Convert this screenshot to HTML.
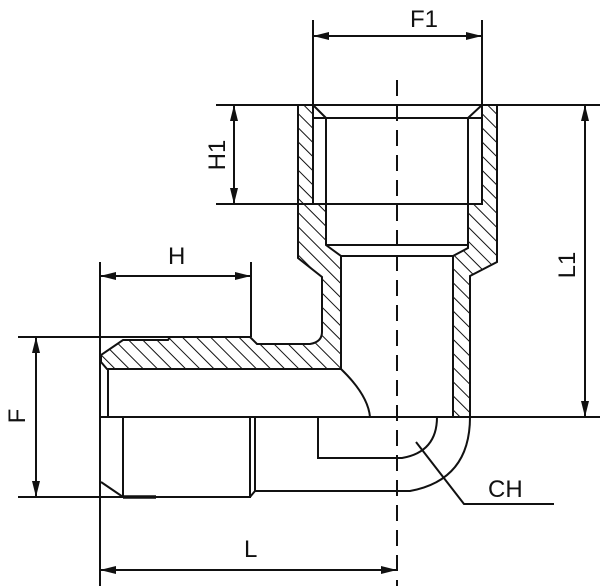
<!DOCTYPE html>
<html><head><meta charset="utf-8"><style>
html,body{margin:0;padding:0;background:#fff;}
svg{display:block;}
text{font-family:"Liberation Sans",sans-serif;font-size:24px;fill:#111;}
</style></head><body>
<svg width="600" height="586" viewBox="0 0 600 586" xmlns="http://www.w3.org/2000/svg">
<defs>
<pattern id="h" patternUnits="userSpaceOnUse" width="10" height="10" patternTransform="rotate(-45)">
<line x1="0" y1="0" x2="0" y2="10" stroke="#111" stroke-width="2"/>
</pattern>
<marker id="a" markerWidth="16" markerHeight="8" refX="16" refY="4" orient="auto" markerUnits="userSpaceOnUse">
<path d="M0,0 L16,4 L0,8 z" fill="#111"/>
</marker>
<marker id="b" markerWidth="16" markerHeight="8" refX="0" refY="4" orient="auto" markerUnits="userSpaceOnUse">
<path d="M16,0 L0,4 L16,8 z" fill="#111"/>
</marker>
</defs>
<g stroke="#111" stroke-width="2" fill="none">
<path fill="url(#h)" d="M298,105 L313,105 L313,204 L326,204 L326,245 L341,256 L341,369 L107,369 L101,362 L101,355 L123,340 L168,340 L170,337 L250,337 L257,344 L310,344 Q322,342 322,332 L322,277 L298,258 Z"/>
<path fill="url(#h)" d="M482,105 L497,105 L497,262 L470,276 L470,417 L453,417 L453,256 L468,248 L468,204 L482,204 Z"/>
<path d="M313,105 L326,118 L468,118 L482,105"/>
<line x1="313" y1="118" x2="326" y2="118"/>
<line x1="468" y1="118" x2="482" y2="118"/>
<line x1="326" y1="118" x2="326" y2="245"/>
<line x1="468" y1="118" x2="468" y2="245"/>
<line x1="326" y1="245" x2="468" y2="245"/>
<line x1="341" y1="256" x2="453" y2="256"/>
<path d="M341,369 Q368,395 370,417"/>
<line x1="108" y1="369" x2="108" y2="417"/>
<line x1="100" y1="417" x2="600" y2="417"/>
<line x1="123" y1="417" x2="123" y2="497"/>
<path d="M101,482 L123,497 L250,497 L250,417"/>
<line x1="255" y1="417" x2="255" y2="491"/>
<path d="M250,497 L255,491 L410,491 Q470,480 470,417"/>
<path d="M318,417 L318,458 L402,458 Q437,452 437,417"/>
<line x1="123" y1="497" x2="156" y2="497" stroke-width="3.5"/>
<path d="M416,442 L464,504 L554,504"/>
<line x1="216" y1="105" x2="600" y2="105"/>
<line x1="216" y1="204" x2="313" y2="204"/>
<line x1="313" y1="204" x2="482" y2="204"/>
<line x1="313" y1="20" x2="313" y2="105"/>
<line x1="482" y1="20" x2="482" y2="105"/>
<line x1="100" y1="262" x2="100" y2="586"/>
<line x1="251" y1="262" x2="251" y2="337"/>
<line x1="18" y1="337" x2="250" y2="337"/>
<line x1="18" y1="497" x2="123" y2="497"/>
<line x1="313" y1="36" x2="482" y2="36" marker-start="url(#b)" marker-end="url(#a)"/>
<line x1="234" y1="105" x2="234" y2="204" marker-start="url(#b)" marker-end="url(#a)"/>
<line x1="100" y1="276" x2="251" y2="276" marker-start="url(#b)" marker-end="url(#a)"/>
<line x1="585" y1="105" x2="585" y2="417" marker-start="url(#b)" marker-end="url(#a)"/>
<line x1="36" y1="337" x2="36" y2="497" marker-start="url(#b)" marker-end="url(#a)"/>
<line x1="100" y1="570" x2="397" y2="570" marker-start="url(#b)" marker-end="url(#a)"/>
<line x1="397" y1="80" x2="397" y2="586" stroke-dasharray="16,9"/>
</g>
<text x="410" y="27">F1</text>
<text x="168" y="264">H</text>
<text x="244" y="557">L</text>
<text x="488" y="497">CH</text>
<text transform="translate(225,155) rotate(-90)" text-anchor="middle">H1</text>
<text transform="translate(575,265) rotate(-90)" text-anchor="middle">L1</text>
<text transform="translate(25,416) rotate(-90)" text-anchor="middle">F</text>
</svg>
</body></html>
